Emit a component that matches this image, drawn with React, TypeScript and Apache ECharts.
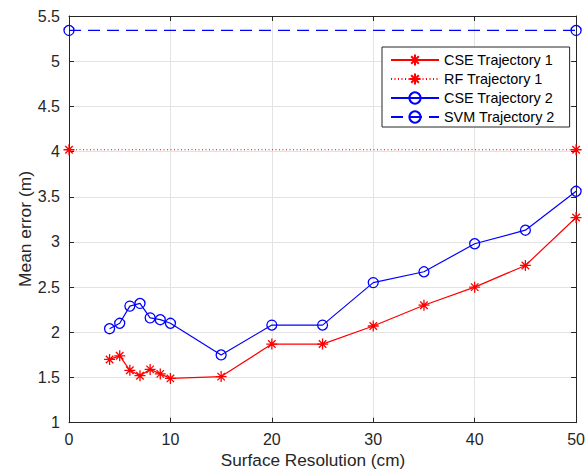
import React, { useEffect, useRef } from "react";
import * as echarts from "echarts";

const resolutions = [4, 5, 6, 7, 8, 9, 10, 15, 20, 25, 30, 35, 40, 45, 50];
const cseTraj1 = [1.70, 1.74, 1.58, 1.52, 1.59, 1.54, 1.49, 1.51, 1.87, 1.87, 2.07, 2.30, 2.50, 2.74, 3.27];
const cseTraj2 = [2.04, 2.10, 2.29, 2.32, 2.16, 2.14, 2.10, 1.75, 2.08, 2.08, 2.55, 2.67, 2.98, 3.13, 3.56];
const rfX = [0, 50];
const rfTraj1 = [4.02, 4.02];
const svmX = [0, 50];
const svmTraj2 = [5.34, 5.34];
const xTicks = [0, 10, 20, 30, 40, 50];
const yTicks = [1, 1.5, 2, 2.5, 3, 3.5, 4, 4.5, 5, 5.5];

const FONT = "'Liberation Sans', Arial, Helvetica, sans-serif";
const AX = "#262626";
const GRID = "#e3e3e3";
const STAR = "path://M5 0L5 10M0 5L10 5M1.6 1.6L8.4 8.4M1.6 8.4L8.4 1.6";

const zip = (xs: number[], ys: number[]) => xs.map((x, i) => [x, ys[i]]);

export default function App() {
  const ref = useRef<HTMLDivElement>(null);
  useEffect(() => {
    if (!ref.current) return;
    const chart = echarts.init(ref.current, undefined, { renderer: "svg" });
    const axisCommon = {
      type: "value" as const,
      axisLine: { show: true, onZero: false, lineStyle: { color: AX, width: 1 } },
      axisTick: { show: true, inside: true, length: 5, lineStyle: { color: AX } },
    };
    chart.setOption({
      animation: false,
      backgroundColor: "#fff",
      grid: { left: 69, right: 5, top: 16, bottom: 47.3, containLabel: false },
      xAxis: [
        {
          ...axisCommon,
          min: xTicks[0],
          max: xTicks[xTicks.length - 1],
          interval: 10,
          position: "bottom",
          axisLabel: { color: AX, fontSize: 16, fontFamily: FONT, margin: 9 },
          splitLine: { show: true, lineStyle: { color: GRID, width: 1 } },
        },
        {
          ...axisCommon,
          min: xTicks[0],
          max: xTicks[xTicks.length - 1],
          interval: 10,
          position: "top",
          axisLabel: { show: false },
          splitLine: { show: false },
        },
      ],
      yAxis: [
        {
          ...axisCommon,
          min: yTicks[0],
          max: yTicks[yTicks.length - 1],
          interval: 0.5,
          position: "left",
          axisLabel: { color: AX, fontSize: 16, fontFamily: FONT, margin: 9 },
          splitLine: { show: true, lineStyle: { color: GRID, width: 1 } },
        },
        {
          ...axisCommon,
          min: yTicks[0],
          max: yTicks[yTicks.length - 1],
          interval: 0.5,
          position: "right",
          axisLabel: { show: false },
          splitLine: { show: false },
        },
      ],
      legend: {
        orient: "vertical",
        left: 382,
        top: 47,
        padding: [6, 15, 3, 8],
        itemWidth: 48,
        itemHeight: 14,
        itemGap: 5,
        backgroundColor: "#fff",
        borderColor: AX,
        borderWidth: 1,
        borderRadius: 0,
        textStyle: { color: "#000", fontSize: 14.4, fontFamily: FONT },
        data: ["CSE Trajectory 1", "RF Trajectory 1", "CSE Trajectory 2", "SVM Trajectory 2"],
      },
      graphic: [
        {
          type: "text",
          x: 25,
          y: 229,
          rotation: Math.PI / 2,
          style: {
            text: "Mean error (m)",
            font: `17.4px ${FONT}`,
            fill: AX,
            align: "center",
            verticalAlign: "middle",
          },
        },
        {
          type: "text",
          x: 313,
          y: 460,
          style: {
            text: "Surface Resolution (cm)",
            font: `17.2px ${FONT}`,
            fill: AX,
            align: "center",
            verticalAlign: "middle",
          },
        },
      ],
      series: [
        {
          name: "CSE Trajectory 1",
          type: "line",
          data: zip(resolutions, cseTraj1),
          symbol: STAR,
          symbolSize: 11,
          lineStyle: { color: "#ff0000", width: 1.2, type: "solid" },
          itemStyle: { color: "#ff0000", borderColor: "#ff0000", borderWidth: 1.3 },
          z: 3,
        },
        {
          name: "RF Trajectory 1",
          type: "line",
          data: zip(rfX, rfTraj1),
          symbol: STAR,
          symbolSize: 11,
          lineStyle: { color: "#ff0000", width: 1, type: [1, 2.5] },
          itemStyle: { color: "#ff0000", borderColor: "#ff0000", borderWidth: 1.3 },
          z: 3,
        },
        {
          name: "CSE Trajectory 2",
          type: "line",
          data: zip(resolutions, cseTraj2),
          symbol: "circle",
          symbolSize: 10,
          lineStyle: { color: "#0000ff", width: 1.2, type: "solid" },
          itemStyle: { color: "rgba(0,0,0,0)", borderColor: "#0000ff", borderWidth: 1.3 },
          z: 3,
        },
        {
          name: "SVM Trajectory 2",
          type: "line",
          data: zip(svmX, svmTraj2),
          symbol: "circle",
          symbolSize: 10,
          lineStyle: { color: "#0000ff", width: 1.2, type: [12, 7] },
          itemStyle: { color: "rgba(0,0,0,0)", borderColor: "#0000ff", borderWidth: 1.3 },
          z: 3,
        },
      ],
    });
    return () => chart.dispose();
  }, []);
  return <div ref={ref} style={{ width: 588, height: 470, position: "absolute", left: 0, top: 0 }} />;
}
